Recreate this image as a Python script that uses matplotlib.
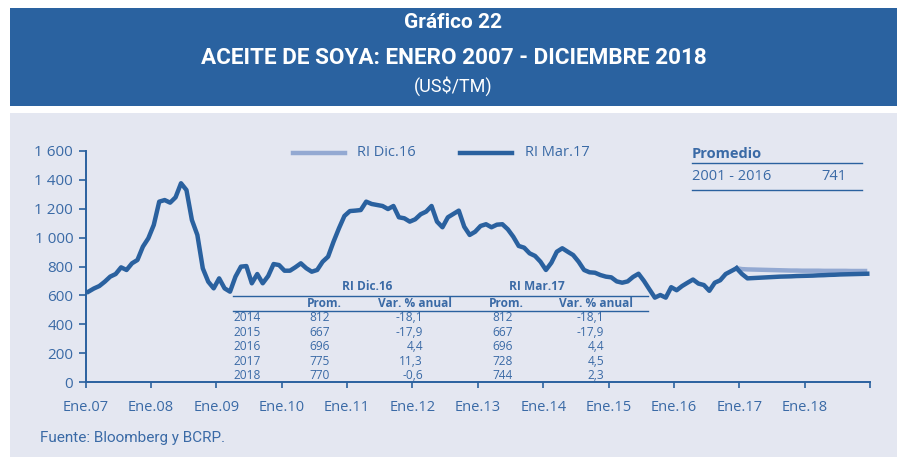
import matplotlib
matplotlib.use("Agg")
import matplotlib.pyplot as plt
from matplotlib.patches import Rectangle
import numpy as np

# ---------------- data ----------------
hist = [
    # 2007
    626, 648, 665, 695, 730, 748, 794, 776, 822, 845, 937, 995,
    # 2008
    1087, 1248, 1259, 1241, 1278, 1375, 1328, 1121, 1018, 787, 695, 649,
    # 2009
    718, 649, 626, 730, 799, 803, 684, 748, 684, 734, 817, 810,
    # 2010
    771, 771, 795, 822, 788, 764, 776, 833, 868, 971, 1064, 1149,
    # 2011
    1183, 1186, 1190, 1248, 1232, 1225, 1218, 1197, 1218, 1140, 1133, 1110,
    # 2012
    1126, 1161, 1179, 1218, 1110, 1071, 1140, 1163, 1186, 1075, 1018, 1040,
    # 2013
    1080, 1092, 1071, 1089, 1092, 1057, 1006, 942, 930, 891, 873, 833,
    # 2014
    776, 826, 902, 926, 902, 879, 833, 776, 760, 757, 741, 730,
    # 2015
    725, 697, 688, 697, 728, 750, 700, 642, 585, 603, 585, 657,
    # 2016
    636, 665, 688, 710, 682, 672, 632, 688, 705, 748, 768, 788,
]
ri_dic16 = [782, 780, 779, 778, 777, 776, 775, 774, 773, 772, 772, 771,
            771, 771, 771, 770, 770, 770, 770, 770, 769, 769, 769, 769]
ri_mar17 = [748, 718, 720, 722, 724, 726, 728, 730, 731, 732, 734, 735,
            736, 737, 739, 740, 742, 743, 745, 746, 747, 748, 749, 750]

tick_labels = ["Ene.07", "Ene.08", "Ene.09", "Ene.10", "Ene.11", "Ene.12",
               "Ene.13", "Ene.14", "Ene.15", "Ene.16", "Ene.17", "Ene.18", ""]
y_ticks = [0, 200, 400, 600, 800, 1000, 1200, 1400, 1600]
y_tick_labels = ["0", "200", "400", "600", "800", "1 000", "1 200", "1 400", "1 600"]

table_years = ["2014", "2015", "2016", "2017", "2018"]
dic_prom = ["812", "667", "696", "775", "770"]
dic_var = ["-18,1", "-17,9", "4,4", "11,3", "-0,6"]
mar_prom = ["812", "667", "696", "728", "744"]
mar_var = ["-18,1", "-17,9", "4,4", "4,5", "2,3"]

# ---------------- style ----------------
W, H = 907, 457
BANNER = "#2a62a0"
PANEL = "#e4e7f1"
TXT = "#3a6aa6"
DARK = "#2a619f"
LIGHT = "#93a9d2"
FONT = ["Open Sans", "DejaVu Sans"]
TFONT = ["Roboto", "DejaVu Sans"]

fig = plt.figure(figsize=(W / 100, H / 100), dpi=100)
fig.patch.set_facecolor("white")

def fx(px):
    return px / W

def fy(py):
    return 1 - py / H

# banner & panel
fig.patches.append(Rectangle((fx(10), fy(106)), fx(887), 98 / H, transform=fig.transFigure,
                             facecolor=BANNER, edgecolor="none", zorder=-5))
fig.patches.append(Rectangle((fx(10), 0), fx(887), fy(113), transform=fig.transFigure,
                             facecolor=PANEL, edgecolor="none", zorder=-5))

fig.text(0.5, fy(23), "Gráfico 22", color="white", ha="center", va="center",
         fontsize=15, fontweight="bold", family=TFONT)
fig.text(0.5, fy(58), "ACEITE DE SOYA: ENERO 2007 - DICIEMBRE 2018", color="white",
         ha="center", va="center", fontsize=16.2, fontweight="bold", family=TFONT)
fig.text(0.5, fy(86), "(US$/TM)", color="white", ha="center", va="center",
         fontsize=13, family=TFONT)

# axes
ax = fig.add_axes([fx(85.7), fy(382.3), fx(870 - 85.7), (382.3 - 150.7) / H])
ax.set_facecolor("none")
ax.set_zorder(2)
n_hist = len(hist)
x_hist = np.arange(n_hist) + 0.5
x_fc = np.arange(n_hist - 1, n_hist + len(ri_dic16)) + 0.5
ax.plot(x_fc, [hist[-1]] + ri_dic16, color=LIGHT, lw=3.2, solid_capstyle="butt", zorder=3)
ax.plot(x_fc, [hist[-1]] + ri_mar17, color=DARK, lw=3.2, zorder=4)
ax.plot(x_hist, hist, color=DARK, lw=3.2, zorder=4)

ax.set_xlim(0, 144)
ax.set_ylim(0, 1600)
ax.set_xticks(np.arange(0, 145, 12))
ax.set_xticklabels(tick_labels)
ax.set_yticks(y_ticks)
ax.set_yticklabels(y_tick_labels)
for s in ["top", "right"]:
    ax.spines[s].set_visible(False)
for s in ["left", "bottom"]:
    ax.spines[s].set_color(DARK)
    ax.spines[s].set_linewidth(1.4)
ax.tick_params(axis="y", direction="out", length=5, width=1.2, color=DARK,
               labelcolor=TXT, labelsize=11, pad=4)
ax.tick_params(axis="x", direction="out", length=4, width=1.2, color=DARK,
               labelcolor=TXT, labelsize=10.5, pad=9)
for lab in ax.get_xticklabels() + ax.get_yticklabels():
    lab.set_family(FONT)

# legend (manual)
fig.add_artist(plt.Line2D([fx(293), fx(345)], [fy(153), fy(153)], color=LIGHT, lw=3.2,
                          transform=fig.transFigure))
fig.text(fx(357), fy(153), "RI Dic.16", color=TXT, fontsize=10.5, va="center", family=FONT)
fig.add_artist(plt.Line2D([fx(460), fx(512)], [fy(153), fy(153)], color=DARK, lw=3.2,
                          transform=fig.transFigure))
fig.text(fx(525), fy(153), "RI Mar.17", color=TXT, fontsize=10.5, va="center", family=FONT)

# Promedio box
fig.text(fx(692), fy(154), "Promedio", color=TXT, fontsize=10.5, fontweight="bold",
         va="center", family=FONT)
fig.add_artist(plt.Line2D([fx(692), fx(862)], [fy(163.5), fy(163.5)], color=DARK, lw=1,
                          transform=fig.transFigure))
fig.text(fx(692), fy(177), "2001 - 2016", color=TXT, fontsize=10.5, va="center", family=FONT)
fig.text(fx(846), fy(177), "741", color=TXT, fontsize=10.5, va="center", ha="right", family=FONT)
fig.add_artist(plt.Line2D([fx(692), fx(862)], [fy(189.5), fy(189.5)], color=DARK, lw=1,
                          transform=fig.transFigure))

# table
tfs = 8.6
fig.text(fx(367), fy(286), "RI Dic.16", color=TXT, fontsize=tfs, fontweight="bold",
         ha="center", va="center", family=FONT)
fig.text(fx(537), fy(286), "RI Mar.17", color=TXT, fontsize=tfs, fontweight="bold",
         ha="center", va="center", family=FONT)
fig.add_artist(plt.Line2D([fx(233), fx(648)], [fy(295.7), fy(295.7)], color=DARK, lw=1,
                          transform=fig.transFigure))
for cx, t in [(324, "Prom."), (415, "Var. % anual"), (506, "Prom."), (596, "Var. % anual")]:
    fig.text(fx(cx), fy(303.5), t, color=TXT, fontsize=tfs, fontweight="bold",
             ha="center", va="center", family=FONT)
fig.add_artist(plt.Line2D([fx(233), fx(648)], [fy(310.7), fy(310.7)], color=DARK, lw=1,
                          transform=fig.transFigure))
for r, yr in enumerate(table_years):
    yy = fy(317.5 + r * 14.6)
    fig.text(fx(233), yy, yr, color=TXT, fontsize=tfs, va="center", family=FONT)
    fig.text(fx(330), yy, dic_prom[r], color=TXT, fontsize=tfs, va="center", ha="right", family=FONT)
    fig.text(fx(423), yy, dic_var[r], color=TXT, fontsize=tfs, va="center", ha="right", family=FONT)
    fig.text(fx(513), yy, mar_prom[r], color=TXT, fontsize=tfs, va="center", ha="right", family=FONT)
    fig.text(fx(604), yy, mar_var[r], color=TXT, fontsize=tfs, va="center", ha="right", family=FONT)

fig.text(fx(40), fy(438), "Fuente: Bloomberg y BCRP.", color=TXT, fontsize=11,
         va="center", family=TFONT)

fig.savefig("out.png", dpi=100, facecolor=fig.get_facecolor())
